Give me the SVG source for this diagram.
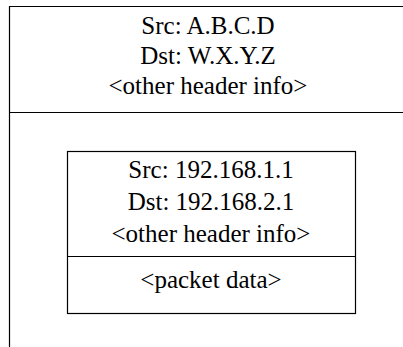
<svg xmlns="http://www.w3.org/2000/svg" width="403" height="347" viewBox="0 0 403 347">
<style>
text{font-family:'Liberation Serif','Times New Roman',Times,serif;font-size:25px;fill:#000;text-anchor:middle}
.b{fill:none;stroke:#000;stroke-width:1.2}
</style>
<rect width="403" height="347" fill="#fff"/>
<g id="outer">
<path class="b" d="M9.5,347 V6.5 H403 M9.5,112.5 H403"/>
<text x="208" y="34">Src: A.B.C.D</text>
<text x="208" y="64">Dst: W.X.Y.Z</text>
<text x="208" y="94">&lt;other header info&gt;</text>
</g>
<g id="inner">
<rect class="b" x="67.5" y="151.5" width="288" height="162"/>
<line class="b" x1="67.5" y1="256.5" x2="355.5" y2="256.5"/>
<text x="211" y="178">Src: 192.168.1.1</text>
<text x="211" y="210">Dst: 192.168.2.1</text>
<text x="211" y="242">&lt;other header info&gt;</text>
<text x="211" y="288">&lt;packet data&gt;</text>
</g>
<g id="connectors"/>
</svg>
